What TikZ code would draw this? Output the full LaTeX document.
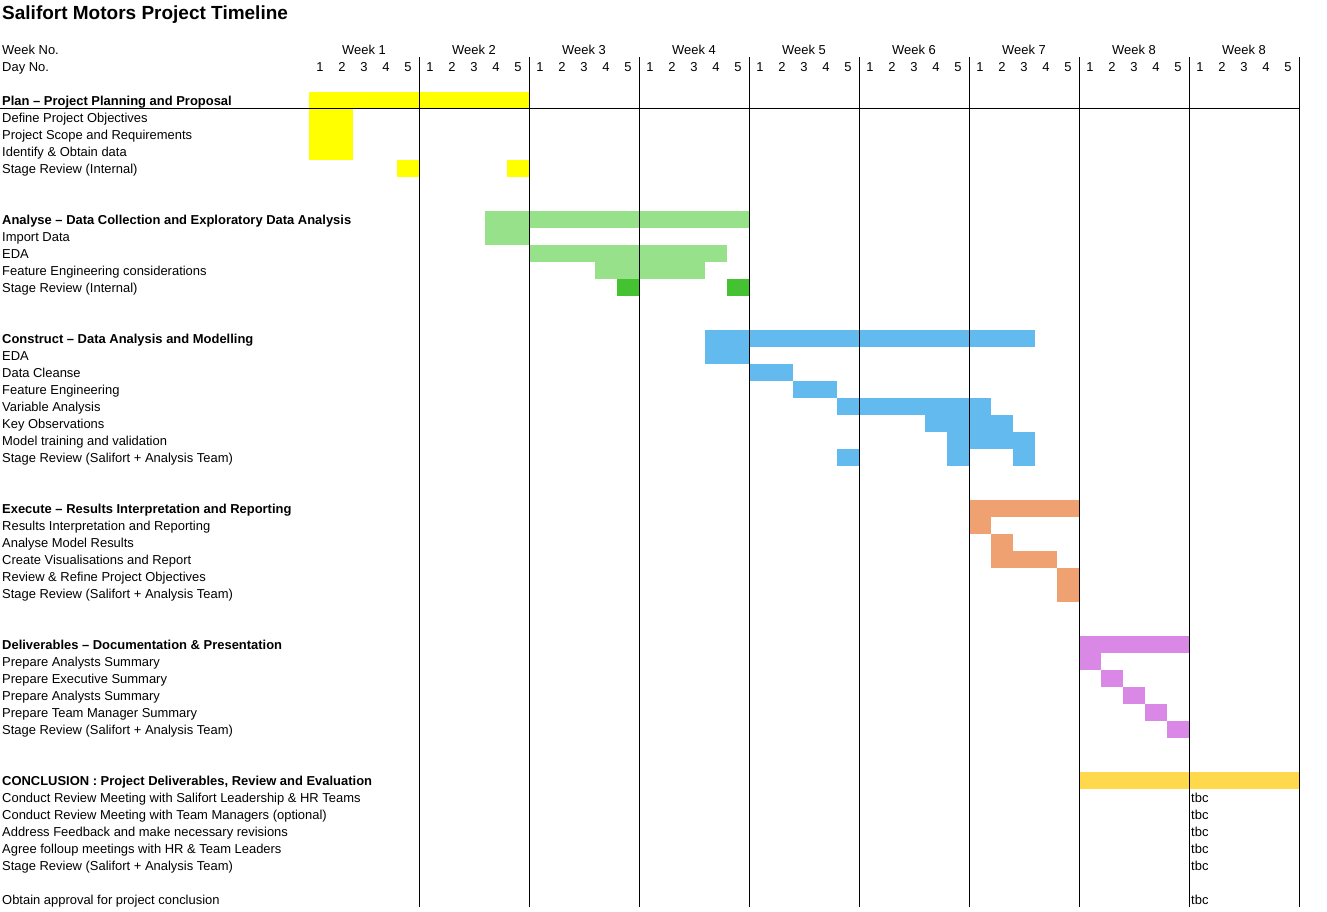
\documentclass[tikz,border=0pt]{standalone}
\usepackage{fontspec}
\setmainfont{Liberation Sans}
\usepackage{tikz}
\usetikzlibrary{calc}

\definecolor{planyellow}{HTML}{FFFF00}
\definecolor{analysegreen}{HTML}{96E189}
\definecolor{reviewgreen}{HTML}{44C232}
\definecolor{constructblue}{HTML}{63BAEE}
\definecolor{executeorange}{HTML}{F0A171}
\definecolor{deliverpurple}{HTML}{DA88E6}
\definecolor{conclgold}{HTML}{FFD84B}

% bar from day #2 to day #3, row #4 to row #5
\def\taskbar[#1](#2:#3)(#4:#5){\fill[#1] ({309+22*(#2-1)}, {40.5+17*#4}) rectangle ({309+22*#3}, {40.5+17*(#5+1)});}

\tikzset{
	rowlabel/.style={anchor=base west, inner sep=0pt, font=\fontsize{12.95}{15}\selectfont},
	headlabel/.style={rowlabel, font=\fontsize{12.95}{15}\selectfont\bfseries},
	daylabel/.style={anchor=base, inner sep=0pt, font=\fontsize{12.95}{15}\selectfont},
	gridline/.style={line width=1pt, color=black}
}

\begin{document}
\begin{tikzpicture}[x=1pt, y=-1pt]
			%%%%% START %%%%%
			\useasboundingbox (0, 0) rectangle (1327, 911);
			
			\node[anchor=base west, inner sep=0pt, font=\fontsize{19}{22}\selectfont\bfseries] (title) at (2, 19.5) {Salifort Motors Project Timeline};
			
			\node[rowlabel] (weekno) at (2, 54) {Week No.};
			\node[rowlabel] (dayno) at (2, 71) {Day No.};
			
			\foreach \w/\lab in {1/1, 2/2, 3/3, 4/4, 5/5, 6/6, 7/7, 8/8, 9/8}
				\node[daylabel] (week\w) at ({309+110*(\w-1)+55}, 54) {Week \lab};
			\foreach \d in {1,...,45}{
				\pgfmathtruncatemacro\dn{mod(\d-1,5)+1}
				\node[daylabel] (day\d) at ({309+22*\d-11}, 71) {\dn};
			}
			
			%% plan
			\taskbar[planyellow](1:10)(3:3);
			\taskbar[planyellow](1:2)(4:6);
			\taskbar[planyellow](5:5)(7:7);
			\taskbar[planyellow](10:10)(7:7);
			
			\node[headlabel] (plan) at (2, 105) {Plan – Project Planning and Proposal};
			\node[rowlabel] (plan1) at (2, 122) {Define Project Objectives};
			\node[rowlabel] (plan2) at (2, 139) {Project Scope and Requirements};
			\node[rowlabel] (plan3) at (2, 156) {Identify \& Obtain data};
			\node[rowlabel] (plan4) at (2, 173) {Stage Review (Internal)};
			
			%% analyse
			\taskbar[analysegreen](9:20)(10:10);
			\taskbar[analysegreen](9:10)(11:11);
			\taskbar[analysegreen](11:19)(12:12);
			\taskbar[analysegreen](14:18)(13:13);
			\taskbar[reviewgreen](15:15)(14:14);
			\taskbar[reviewgreen](20:20)(14:14);
			
			\node[headlabel] (analyse) at (2, 224) {Analyse – Data Collection and Exploratory Data Analysis};
			\node[rowlabel] (analyse1) at (2, 241) {Import Data};
			\node[rowlabel] (analyse2) at (2, 258) {EDA};
			\node[rowlabel] (analyse3) at (2, 275) {Feature Engineering considerations};
			\node[rowlabel] (analyse4) at (2, 292) {Stage Review (Internal)};
			
			%% construct
			\taskbar[constructblue](19:33)(17:17);
			\taskbar[constructblue](19:20)(18:18);
			\taskbar[constructblue](21:22)(19:19);
			\taskbar[constructblue](23:24)(20:20);
			\taskbar[constructblue](25:31)(21:21);
			\taskbar[constructblue](29:32)(22:22);
			\taskbar[constructblue](30:33)(23:23);
			\taskbar[constructblue](25:25)(24:24);
			\taskbar[constructblue](30:30)(24:24);
			\taskbar[constructblue](33:33)(24:24);
			
			\node[headlabel] (construct) at (2, 343) {Construct – Data Analysis and Modelling};
			\node[rowlabel] (construct1) at (2, 360) {EDA};
			\node[rowlabel] (construct2) at (2, 377) {Data Cleanse};
			\node[rowlabel] (construct3) at (2, 394) {Feature Engineering};
			\node[rowlabel] (construct4) at (2, 411) {Variable Analysis};
			\node[rowlabel] (construct5) at (2, 428) {Key Observations};
			\node[rowlabel] (construct6) at (2, 445) {Model training and validation};
			\node[rowlabel] (construct7) at (2, 462) {Stage Review (Salifort + Analysis Team)};
			
			%% execute
			\taskbar[executeorange](31:35)(27:27);
			\taskbar[executeorange](31:31)(28:28);
			\taskbar[executeorange](32:32)(29:29);
			\taskbar[executeorange](32:34)(30:30);
			\taskbar[executeorange](35:35)(31:32);
			
			\node[headlabel] (execute) at (2, 513) {Execute – Results Interpretation and Reporting};
			\node[rowlabel] (execute1) at (2, 530) {Results Interpretation and Reporting};
			\node[rowlabel] (execute2) at (2, 547) {Analyse Model Results};
			\node[rowlabel] (execute3) at (2, 564) {Create Visualisations and Report};
			\node[rowlabel] (execute4) at (2, 581) {Review \& Refine Project Objectives};
			\node[rowlabel] (execute5) at (2, 598) {Stage Review (Salifort + Analysis Team)};
			
			%% deliverables
			\taskbar[deliverpurple](36:40)(35:35);
			\taskbar[deliverpurple](36:36)(36:36);
			\taskbar[deliverpurple](37:37)(37:37);
			\taskbar[deliverpurple](38:38)(38:38);
			\taskbar[deliverpurple](39:39)(39:39);
			\taskbar[deliverpurple](40:40)(40:40);
			
			\node[headlabel] (deliver) at (2, 649) {Deliverables – Documentation \& Presentation};
			\node[rowlabel] (deliver1) at (2, 666) {Prepare Analysts Summary};
			\node[rowlabel] (deliver2) at (2, 683) {Prepare Executive Summary};
			\node[rowlabel] (deliver3) at (2, 700) {Prepare Analysts Summary};
			\node[rowlabel] (deliver4) at (2, 717) {Prepare Team Manager Summary};
			\node[rowlabel] (deliver5) at (2, 734) {Stage Review (Salifort + Analysis Team)};
			
			%% conclusion
			\taskbar[conclgold](36:45)(43:43);
			
			\node[headlabel] (concl) at (2, 785) {CONCLUSION : Project Deliverables, Review and Evaluation};
			\node[rowlabel] (concl1) at (2, 802) {Conduct Review Meeting with Salifort Leadership \& HR Teams};
			\node[rowlabel] (concl2) at (2, 819) {Conduct Review Meeting with Team Managers (optional)};
			\node[rowlabel] (concl3) at (2, 836) {Address Feedback and make necessary revisions};
			\node[rowlabel] (concl4) at (2, 853) {Agree folloup meetings with HR \& Team Leaders};
			\node[rowlabel] (concl5) at (2, 870) {Stage Review (Salifort + Analysis Team)};
			\node[rowlabel] (concl6) at (2, 904) {Obtain approval for project conclusion};
			
			\node[rowlabel] (tbc1) at (1191, 802) {tbc};
			\node[rowlabel] (tbc2) at (1191, 819) {tbc};
			\node[rowlabel] (tbc3) at (1191, 836) {tbc};
			\node[rowlabel] (tbc4) at (1191, 853) {tbc};
			\node[rowlabel] (tbc5) at (1191, 870) {tbc};
			\node[rowlabel] (tbc6) at (1191, 904) {tbc};
			
			%% grid
			\foreach \w in {1,...,9}
				\draw[gridline] ({309+110*\w}, 57) -- ({309+110*\w}, 907);
			\draw[gridline] (0, 108.5) -- (1299, 108.5);
			
			%%%%% END %%%%%
		\end{tikzpicture}
\end{document}
